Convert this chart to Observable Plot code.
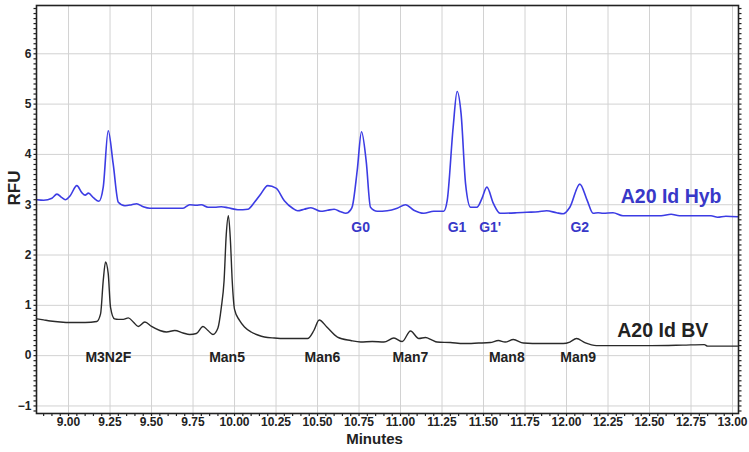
<!DOCTYPE html>
<html><head><meta charset="utf-8">
<script src="https://cdn.jsdelivr.net/npm/d3@7"></script>
<script src="https://cdn.jsdelivr.net/npm/@observablehq/plot@0.6"></script>
<style>
body{margin:0;background:#fff;}
#chart svg{font-family:"Liberation Sans",Arial,sans-serif;}
</style>
</head><body><div id="chart"></div>
<script>
// Trace: A20 Id Hyb (blue)
const hybTime = [8.81,8.85,8.90,8.93,8.96,8.98,9.01,9.05,9.08,9.10,9.12,9.15,9.183,9.209,9.239,9.269,9.30,9.34,9.38,9.41,9.45,9.49,9.60,9.69,9.73,9.77,9.80,9.84,9.88,9.92,9.96,10.02,10.08,10.12,10.157,10.20,10.25,10.30,10.35,10.38,10.42,10.46,10.52,10.56,10.60,10.64,10.67,10.70,10.71,10.739,10.765,10.793,10.819,10.86,10.92,10.98,11.03,11.08,11.14,11.20,11.26,11.281,11.317,11.341,11.365,11.392,11.422,11.46,11.49,11.52,11.56,11.60,11.70,11.76,11.83,11.88,11.94,11.98,12.02,12.08,12.125,12.16,12.19,12.22,12.28,12.34,12.45,12.57,12.63,12.68,12.80,12.87,12.91,12.96,13.03];
const hybRFU  = [3.10,3.09,3.13,3.21,3.14,3.10,3.18,3.38,3.24,3.19,3.23,3.14,3.07,3.35,4.47,3.81,3.05,2.98,3.00,3.02,2.96,2.93,2.93,2.93,3.00,2.99,3.00,2.95,2.95,2.96,2.94,2.90,2.91,3.05,3.21,3.38,3.33,3.08,2.93,2.88,2.91,2.94,2.87,2.89,2.91,2.86,2.83,2.90,2.97,3.68,4.45,3.87,2.95,2.87,2.88,2.93,3.00,2.89,2.83,2.87,2.87,3.08,4.54,5.25,4.80,3.41,2.95,2.95,3.12,3.35,3.02,2.83,2.84,2.85,2.86,2.88,2.84,2.82,2.95,3.41,3.08,2.83,2.84,2.83,2.84,2.78,2.78,2.78,2.81,2.78,2.78,2.78,2.75,2.77,2.76];
// Trace: A20 Id BV (black)
const bvTime = [8.81,8.85,8.89,8.95,9.01,9.10,9.17,9.193,9.209,9.223,9.239,9.253,9.277,9.30,9.33,9.36,9.39,9.42,9.46,9.50,9.55,9.59,9.64,9.69,9.73,9.77,9.81,9.84,9.87,9.90,9.92,9.937,9.950,9.963,9.975,9.986,10.00,10.03,10.06,10.10,10.14,10.18,10.24,10.30,10.37,10.44,10.478,10.51,10.556,10.62,10.70,10.76,10.83,10.90,10.96,11.01,11.06,11.11,11.15,11.19,11.22,11.30,11.38,11.47,11.54,11.59,11.63,11.68,11.74,11.85,11.98,12.02,12.06,12.11,12.18,12.35,12.51,12.70,12.83,12.85,12.92,13.03];
const bvRFU  = [0.73,0.71,0.69,0.67,0.66,0.66,0.68,0.83,1.49,1.86,1.63,0.96,0.73,0.72,0.72,0.75,0.67,0.58,0.67,0.58,0.50,0.47,0.50,0.45,0.42,0.44,0.58,0.50,0.42,0.55,0.95,1.49,2.40,2.78,2.30,1.49,0.92,0.70,0.57,0.47,0.41,0.37,0.35,0.34,0.34,0.34,0.50,0.71,0.57,0.37,0.30,0.27,0.28,0.27,0.35,0.28,0.49,0.34,0.36,0.31,0.27,0.26,0.24,0.25,0.26,0.30,0.27,0.32,0.25,0.24,0.24,0.27,0.34,0.26,0.20,0.20,0.20,0.21,0.22,0.19,0.19,0.19];

const hybPeakNames = ["G0","G1","G1'","G2"];
const hybPeakTimes = [10.76,11.34,11.54,12.08];
const bvPeakNames = ["M3N2F","Man5","Man6","Man7","Man8","Man9"];
const bvPeakTimes = [9.24,9.955,10.53,11.06,11.64,12.07];
const seriesNames = ["A20 Id Hyb","A20 Id BV"];
const xTicks = [9.00,9.25,9.50,9.75,10.00,10.25,10.50,10.75,11.00,11.25,11.50,11.75,12.00,12.25,12.50,12.75,13.00];
const yTicks = [-1,0,1,2,3,4,5,6];

const hyb = hybTime.map((t,i)=>({t, v: hybRFU[i]}));
const bv = bvTime.map((t,i)=>({t, v: bvRFU[i]}));
const hybLabels = hybPeakNames.map((name,i)=>({name, t: hybPeakTimes[i]}));
const bvLabels = bvPeakNames.map((name,i)=>({name, t: bvPeakTimes[i]}));
const xMinor = d3.range(8.85, 13.03, 0.05);
const yMinor = d3.range(-1.1, 6.95, 0.1);

const blueLine = "#3c3ce4";
const blueText = "#3838c8";
const ink = "#222";
const gridColor = "#d2d2d2";

const chart = Plot.plot({
  width: 749, height: 452,
  marginLeft: 36, marginRight: 11, marginTop: 5, marginBottom: 39,
  x: {domain: [8.807, 13.036]},
  y: {domain: [-1.15, 6.96]},
  marks: [
    Plot.ruleX(xTicks, {x: d=>d, stroke: gridColor, strokeWidth: 1}),
    Plot.ruleY(yTicks, {y: d=>d, stroke: gridColor, strokeWidth: 1}),
    Plot.line(bv, {x: "t", y: "v", stroke: "#2a2a2a", strokeWidth: 1.4, curve: "monotone-x"}),
    Plot.line(hyb, {x: "t", y: "v", stroke: blueLine, strokeWidth: 1.6, curve: "monotone-x"}),
    Plot.text(hybLabels, {x: "t", y: 2.54, text: "name", fill: blueText, fontSize: 14, fontWeight: "bold"}),
    Plot.text(bvLabels, {x: "t", y: -0.03, text: "name", fill: ink, fontSize: 14, fontWeight: "bold"}),
    Plot.text([seriesNames[0]], {x: 12.63, y: 3.15, text: d=>d, fill: blueText, fontSize: 19.5, fontWeight: "bold"}),
    Plot.text([seriesNames[1]], {x: 12.58, y: 0.50, text: d=>d, fill: ink, fontSize: 19.5, fontWeight: "bold"}),
    Plot.axisX(xMinor, {tickSize: 3, tickFormat: () => "", label: null, stroke: ink, strokeWidth: 1.2}),
    Plot.axisX(xTicks, {tickSize: 0, tickPadding: 4, tickFormat: d3.format(".2f"), label: null, fontSize: 12, fontWeight: "bold", fill: ink}),
    Plot.axisY(yMinor, {anchor: "left", tickSize: 2.5, tickFormat: () => "", label: null, stroke: ink, strokeWidth: 1.2}),
    Plot.axisY(yMinor, {anchor: "right", tickSize: 2.5, tickFormat: () => "", label: null, stroke: ink, strokeWidth: 1.2}),
    Plot.axisY(yTicks, {anchor: "left", tickSize: 0, tickPadding: 5, tickFormat: d3.format("d"), label: null, fontSize: 12, fontWeight: "bold", fill: ink}),
    Plot.frame({stroke: ink, strokeWidth: 1.6}),
    Plot.text(["Minutes"], {frameAnchor: "bottom", dx: -13, dy: 30, text: d=>d, fontSize: 15, fontWeight: "bold", fill: ink}),
    Plot.text(["RFU"], {frameAnchor: "left", dx: -22, dy: -4, rotate: -90, text: d=>d, fontSize: 17, fontWeight: "bold", fill: ink})
  ]
});
document.getElementById("chart").appendChild(chart);
</script>
</body></html>
